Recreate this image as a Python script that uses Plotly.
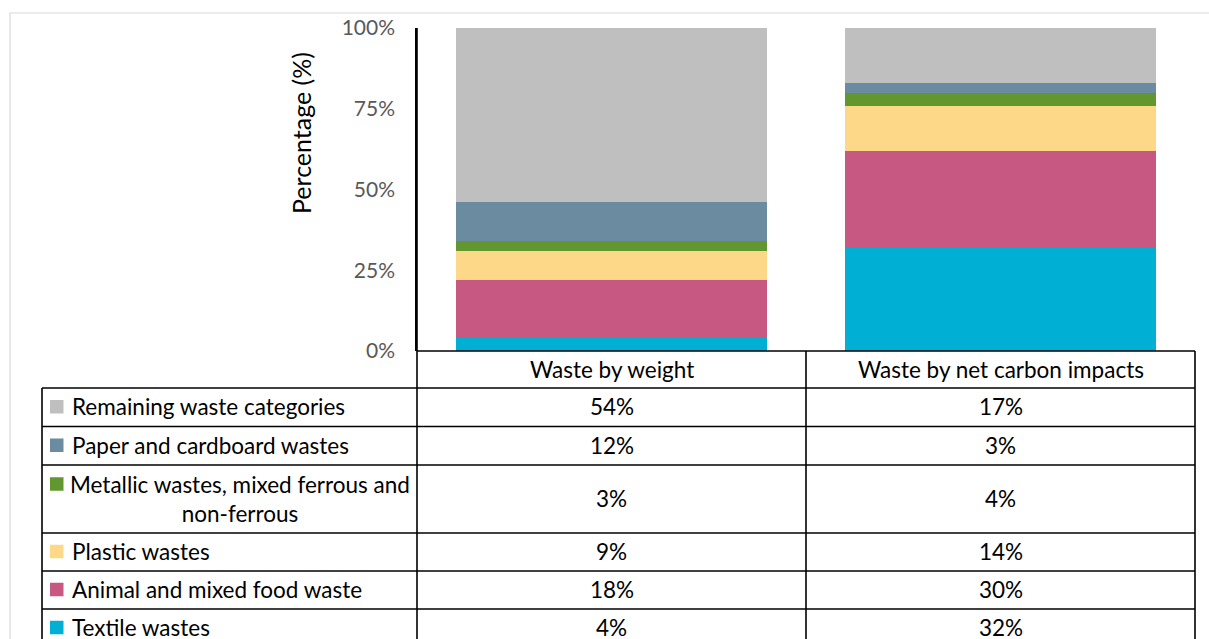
import plotly.graph_objects as go

# ---------------- data ----------------
categories = ["Waste by weight", "Waste by net carbon impacts"]
series_names = ["Textile wastes", "Animal and mixed food waste", "Plastic wastes",
                "Metallic wastes, mixed ferrous and non-ferrous",
                "Paper and cardboard wastes", "Remaining waste categories"]
by_weight = [4, 18, 9, 3, 12, 54]
by_carbon = [32, 30, 14, 4, 3, 17]
colors = ["#00B0D4", "#C75882", "#FCD888", "#62962F", "#6B8BA0", "#BFBFBF"]
y_tickvals = [0, 25, 50, 75, 100]
y_ticktext = ["0%", "25%", "50%", "75%", "100%"]
y_title = "Percentage (%)"

# ---------------- layout constants (pixels) ----------------
FIG_W, FIG_H = 1209, 639
L, R, T, B = 417, 1195, 28, 351
PW, PH = R - L, B - T
FONT = "Lato"
FS = 22.5
TICK_FS = 21
LABEL_LEFT = 42
COL_MID = (L + R) / 2
HEADER_H = 37
ROW_H = [38.5, 38.5, 68, 38, 38, 38]   # table rows, top to bottom


def px(x):
    return (x - L) / PW


def py(y):
    return (B - y) / PH


fig = go.Figure()
for name, w, c, col in zip(series_names, by_weight, by_carbon, colors):
    fig.add_trace(go.Bar(x=categories, y=[w, c], name=name, marker_color=col,
                         marker_line_width=0, showlegend=False,
                         hoverinfo="name+y"))

shapes = []
annotations = []
line = dict(color="black", width=1.6)

# outer light frame
shapes.append(dict(type="rect", xref="paper", yref="paper",
                   x0=px(10), x1=px(FIG_W + 10), y0=py(13), y1=py(FIG_H + 10),
                   line=dict(color="#D9D9D9", width=1.2), layer="below"))

# header row
hdr_top, hdr_bot = B, B + HEADER_H
shapes.append(dict(type="line", xref="paper", yref="paper",
                   x0=px(L), x1=px(R), y0=py(hdr_top), y1=py(hdr_top), line=line))
for i, cat in enumerate(categories):
    cx = L + PW * (i + 0.5) / len(categories)
    annotations.append(dict(xref="paper", yref="paper", x=px(cx), y=py((hdr_top + hdr_bot) / 2 - 0.5),
                            text=cat, showarrow=False, xanchor="center", yanchor="middle",
                            font=dict(size=FS, color="black", family=FONT)))

# rows (top to bottom = reversed series order)
row_names = list(reversed(series_names))
row_w = list(reversed(by_weight))
row_c = list(reversed(by_carbon))
row_cols = list(reversed(colors))
y_cur = hdr_bot
bottom = FIG_H + 20
for k, (nm, w, c, col, h) in enumerate(zip(row_names, row_w, row_c, row_cols, ROW_H)):
    top = y_cur
    mid = top + h / 2 - 0.5
    shapes.append(dict(type="line", xref="paper", yref="paper",
                       x0=px(LABEL_LEFT), x1=px(R), y0=py(top), y1=py(top), line=line))
    if h > 50:
        # wrapped label, centred in the cell
        annotations.append(dict(xref="paper", yref="paper", x=px(240), y=py(mid),
                                text="Metallic wastes, mixed ferrous and<br>non-ferrous",
                                showarrow=False, xanchor="center", yanchor="middle", align="center",
                                font=dict(size=FS, color="black", family=FONT)))
        sw_y = mid - 14.5
    else:
        annotations.append(dict(xref="paper", yref="paper", x=px(70), y=py(mid),
                                text=nm, showarrow=False, xanchor="left", yanchor="middle",
                                font=dict(size=FS, color="black", family=FONT)))
        sw_y = mid
    shapes.append(dict(type="rect", xref="paper", yref="paper",
                       x0=px(50), x1=px(63.5), y0=py(sw_y - 6.75), y1=py(sw_y + 6.75),
                       fillcolor=col, line=dict(width=0)))
    for i, v in enumerate([w, c]):
        cx = L + PW * (i + 0.5) / len(categories)
        annotations.append(dict(xref="paper", yref="paper", x=px(cx), y=py(mid),
                                text=f"{v}%", showarrow=False, xanchor="center", yanchor="middle",
                                font=dict(size=FS, color="black", family=FONT)))
    y_cur = top + h
shapes.append(dict(type="line", xref="paper", yref="paper",
                   x0=px(LABEL_LEFT), x1=px(R), y0=py(y_cur), y1=py(y_cur), line=line))

# vertical table lines
for xv, ytop in [(LABEL_LEFT, hdr_bot), (L, T), (COL_MID, hdr_top), (R, hdr_top)]:
    shapes.append(dict(type="line", xref="paper", yref="paper",
                       x0=px(xv), x1=px(xv), y0=py(ytop), y1=py(bottom), line=line))

# y-axis title
annotations.append(dict(xref="paper", yref="paper", x=px(301), y=py(133), text=y_title,
                        textangle=-90, showarrow=False, xanchor="center", yanchor="middle",
                        font=dict(size=25, color="black", family=FONT)))

fig.update_layout(
    width=FIG_W, height=FIG_H,
    margin=dict(l=L, r=FIG_W - R, t=T, b=FIG_H - B, pad=0),
    barmode="stack", bargap=0.2,
    plot_bgcolor="white", paper_bgcolor="white",
    font=dict(family=FONT, size=FS, color="black"),
    shapes=shapes, annotations=annotations,
    xaxis=dict(showticklabels=False, showgrid=False, zeroline=False, showline=False,
               ticks="", range=[-0.5, 1.5]),
    yaxis=dict(range=[0, 100], tickvals=y_tickvals, ticktext=y_ticktext, showgrid=False,
               zeroline=False, showline=True, linecolor="black", linewidth=1.6,
               ticks="", ticklabelstandoff=16,
               tickfont=dict(size=TICK_FS, color="#595959", family=FONT)),
)

fig.write_html("out.html")
